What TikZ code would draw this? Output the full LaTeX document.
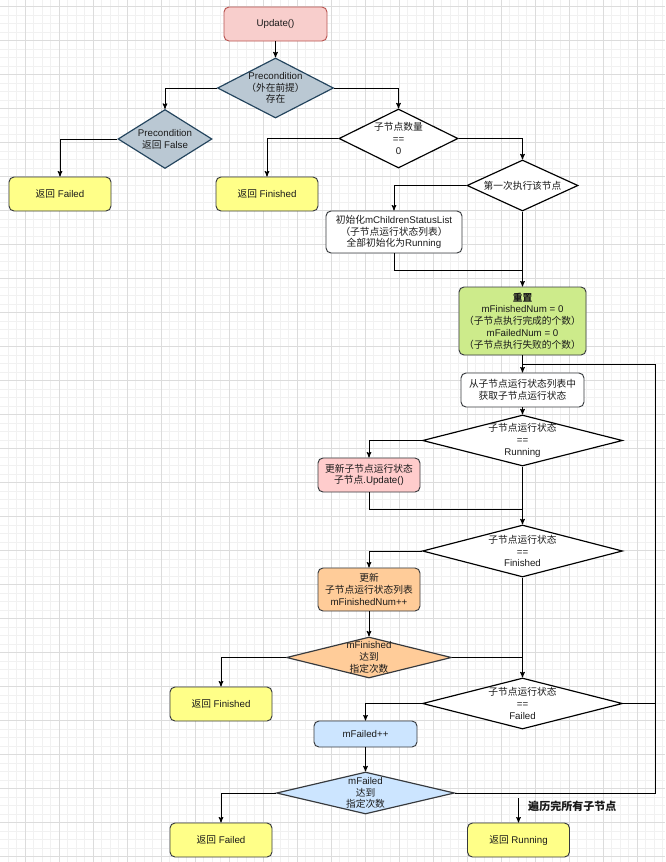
\documentclass[tikz,border=0pt]{standalone}
\usepackage{fontspec}
\setmainfont{Liberation Sans}
\newfontfamily\cjk{Noto Sans CJK SC}
\usetikzlibrary{shapes.geometric, arrows}
\usepackage{xcolor}

\newcommand{\zh}[1]{{\cjk #1}}
\newcommand{\pxu}{0.03cm}

\definecolor{gridmajor}{HTML}{DCDCDC}
\definecolor{gridminor}{HTML}{F1F1F1}
\definecolor{edgegray}{HTML}{36393D}
\definecolor{txtgray}{HTML}{1A1A1A}
\definecolor{updfill}{HTML}{F8CECC}
\definecolor{updline}{HTML}{B85450}
\definecolor{slatefill}{HTML}{BAC8D3}
\definecolor{slateline}{HTML}{23445D}
\definecolor{retfill}{HTML}{FFFF88}
\definecolor{resetfill}{HTML}{CDEB8B}
\definecolor{childfill}{HTML}{FFCCCC}
\definecolor{finfill}{HTML}{FFCC99}
\definecolor{failfill}{HTML}{CCE5FF}

\tikzset{
	x=0.03cm, y=-0.03cm,
	>=stealth',
	every node/.style={font=\fontsize{8.3}{10}\selectfont, text=txtgray, align=center, inner sep=0pt},
	flow/.style={->, line width=0.75pt},
	link/.style={line width=0.75pt},
	boxsize/.style 2 args={minimum width=#1*\pxu, minimum height=#2*\pxu},
	box/.style={rectangle, rounded corners=0.15cm, draw=edgegray, fill=white, line width=0.8pt},
	decision/.style={diamond, draw=black, fill=white, line width=1pt},
	retbox/.style={box, fill=retfill, boxsize={102}{34}},
	slate/.style={decision, draw=slateline, fill=slatefill},
	statecheck/.style={decision, boxsize={200}{51}}}

\begin{document}
\begin{tikzpicture}
		\useasboundingbox (0,0) rectangle (665,862);
		\fill[white] (0,0) rectangle (665,862);
		% background grid
		\foreach \i in {0,...,78}
			\draw[gridminor, line width=0.5pt] ({-0.5+8.5*\i},0) -- ({-0.5+8.5*\i},862);
		\foreach \i in {0,...,101}
			\draw[gridminor, line width=0.5pt] (0,{-1.8+8.5*\i}) -- (665,{-1.8+8.5*\i});
		\foreach \i in {0,...,18}
			\draw[gridmajor, line width=0.6pt] ({25+34*\i},0) -- ({25+34*\i},862);
		\foreach \i in {0,...,25}
			\draw[gridmajor, line width=0.6pt] (0,{6.7+34*\i}) -- (665,{6.7+34*\i});

		% top part
		\node[box, draw=updline, fill=updfill, boxsize={103}{34}] (upd) at (275.5,24) {Update()};
		\node[slate, boxsize={116}{60}, label={center:Precondition\\\zh{（外在前提）}\\\zh{存在}}] (pre) at (275.5,88) {};
		\node[slate, boxsize={94}{59}, label={center:Precondition\\\zh{返回} False}] (pfalse) at (165,139) {};
		\node[decision, boxsize={119}{59}, label={center:\zh{子节点数量}\\==\\0}] (cnt) at (398.5,138.5) {};
		\node[retbox] (retFail1) at (60,194) {\zh{返回} Failed};
		\node[retbox] (retFin1) at (267,194) {\zh{返回} Finished};
		\node[decision, boxsize={111}{51}, label={center:\zh{第一次执行该节点}}] (first) at (522.5,185.5) {};
		\node[box, boxsize={136}{42}] (init) at (394,232) {\zh{初始化}mChildrenStatusList\\\zh{（子节点运行状态列表）}\\\zh{全部初始化为}Running};
		\node[box, fill=resetfill, boxsize={127}{68}] (reset) at (522.5,321) {\textbf{\zh{重置}}\\mFinishedNum = 0\\\zh{（子节点执行完成的个数）}\\mFailedNum = 0\\\zh{（子节点执行失败的个数）}};
		\coordinate (initJoin) at (522.5,270);

		% loop over children
		\node[box, boxsize={123}{34}] (getst) at (522.5,390) {\zh{从子节点运行状态列表中}\\\zh{获取子节点运行状态}};
		\node[statecheck, label={center:\zh{子节点运行状态}\\==\\Running}] (isRun) at (522.5,440.5) {};
		\node[box, fill=childfill, boxsize={102}{34}] (updChild) at (369,475) {\zh{更新子节点运行状态}\\\zh{子节点}.Update()};
		\coordinate (runJoin) at (522.5,509);
		\node[statecheck, boxsize={200}{52}, label={center:\zh{子节点运行状态}\\==\\Finished}] (isFin) at (522.5,551) {};
		\node[box, fill=finfill, boxsize={102}{43}] (updList) at (369,589.5) {\zh{更新}\\\zh{子节点运行状态列表}\\mFinishedNum++};
		\node[decision, draw=edgegray, fill=finfill, boxsize={165}{41}, label={center:mFinished\\\zh{达到}\\\zh{指定次数}}] (finDone) at (369,657.5) {};
		\node[retbox] (retFin2) at (221,704) {\zh{返回} Finished};
		\node[statecheck, label={center:\zh{子节点运行状态}\\==\\Failed}] (isFail) at (522.5,703.5) {};
		\node[box, fill=failfill, boxsize={103}{26}] (failInc) at (365.5,734) {mFailed++};
		\node[decision, draw=edgegray, fill=failfill, boxsize={178}{42}, label={center:mFailed\\\zh{达到}\\\zh{指定次数}}] (failDone) at (365.5,793) {};
		\node[retbox] (retFail2) at (221,840) {\zh{返回} Failed};
		\node[retbox] (retRun) at (518.5,840) {\zh{返回} Running};
		\coordinate (loopTop) at (655,364);
		\coordinate (loopJoin) at (522.5,364);
		\coordinate (allDone) at (518.5,798);
		\node[anchor=west, font=\fontsize{9.4}{11}\selectfont\bfseries] (doneTxt) at (528,806) {\zh{遍历完所有子节点}};

		\draw[flow] (upd) -- (pre);
		\draw[flow] (pre.west) -| (pfalse.north);
		\draw[flow] (pre.east) -| (cnt.north);
		\draw[flow] (pfalse.west) -| (retFail1.north);
		\draw[flow] (cnt.west) -| (retFin1.north);
		\draw[flow] (cnt.east) -| (first.north);
		\draw[flow] (first.west) -| (init.north);
		\draw[flow] (first.south) -- (reset.north);
		\draw[link] (init.south) |- (initJoin);
		\draw[flow] (reset.south) -- (getst.north);
		\draw[flow] (getst.south) -- (isRun.north);
		\draw[flow] (isRun.west) -| (updChild.north);
		\draw[flow] (isRun.south) -- (isFin.north);
		\draw[link] (updChild.south) |- (runJoin);
		\draw[flow] (isFin.west) -| (updList.north);
		\draw[flow] (isFin.south) -- (isFail.north);
		\draw[flow] (updList.south) -- (finDone.north);
		\draw[flow] (finDone.west) -| (retFin2.north);
		\draw[link] (finDone.east) -- (finDone.east -| isFin.south);
		\draw[flow] (isFail.west) -| (failInc.north);
		\draw[flow] (failInc.south) -- (failDone.north);
		\draw[flow] (failDone.west) -| (retFail2.north);
		\draw[link] (failDone.east) -| (loopTop) -- (loopJoin);
		\draw[link] (isFail.east) -| (loopTop);
		\draw[flow] (allDone) -- (retRun.north);
	\end{tikzpicture}
\end{document}
